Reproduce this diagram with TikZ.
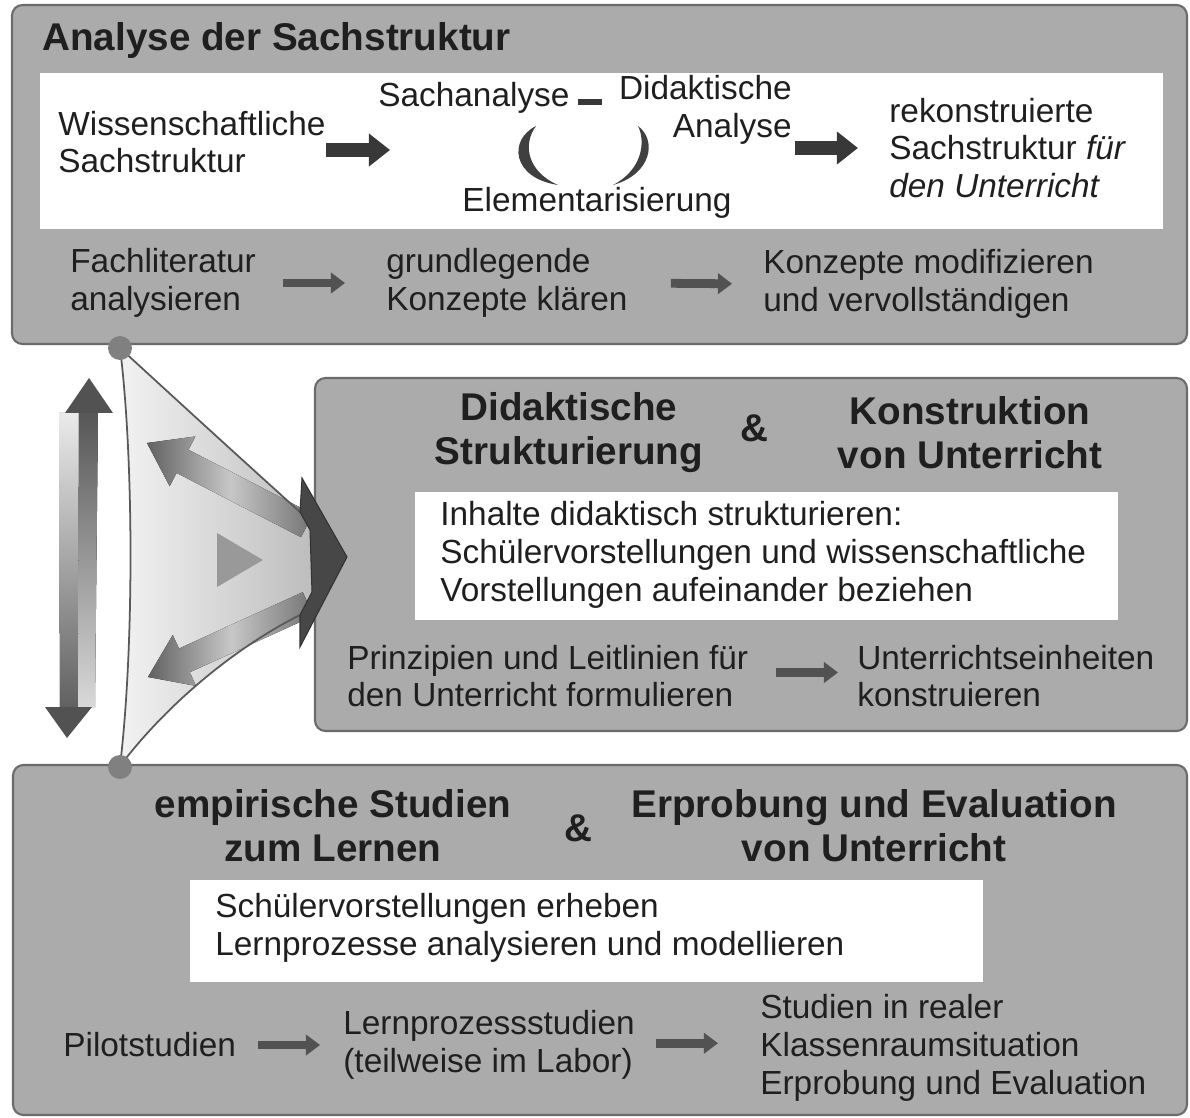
\documentclass[tikz,border=0pt]{standalone}
\usepackage{fontspec}
\setmainfont{Liberation Sans}
\usetikzlibrary{arrows.meta,calc}
\begin{document}
\begin{tikzpicture}[x=0.02cm,y=-0.02cm,
 panel/.style={draw=black!58, line width=1.2pt, fill=black!33, rounded corners=6pt},
 txt/.style={font=\fontsize{19}{21.5}\selectfont, inner sep=0pt, text=black!88, align=left},
 hd/.style={font=\fontsize{22}{25}\selectfont\bfseries, inner sep=0pt, text=black!88, align=center},
 bigarr/.style={line width=8.5pt, draw=black!78, -{Triangle[length=12pt,width=18pt]}},
 smallarr/.style={line width=5pt, draw=black!68, -{Triangle[length=8pt,width=11.5pt]}},
 darkfill/.style={fill=black!72},
]
\fill[white] (0,0) rectangle (1190,1118);
\useasboundingbox (0,0) rectangle (1190,1118);

% panels
\draw[panel] (12,5) rectangle (1187,344);
\draw[panel] (315,378) rectangle (1187,731);
\draw[panel] (13,765) rectangle (1187,1115);

% white boxes
\fill[white] (40,73) rectangle (1163,229);
\fill[white] (415,492) rectangle (1118,620);
\fill[white] (190,880) rectangle (983,982);

% ---------- top panel ----------
\node[hd, anchor=west] (title) at (42,41) {Analyse der Sachstruktur};
\node[txt, anchor=west] (wiss) at (58,142) {Wissenschaftliche\\Sachstruktur};
\node[txt, anchor=west] (sach) at (378,98) {Sachanalyse};
\node[txt, anchor=east, align=right] (did) at (792,110) {Didaktische\\Analyse};
\node[txt] (elem) at (597,203) {Elementarisierung};
\node[txt, anchor=west] (rek) at (889,148) {rekonstruierte\\Sachstruktur \textit{für}\\\textit{den Unterricht}};
\coordinate (cyc) at (585,150);

% cycle brackets
\fill[black!75] (536,126) .. controls (508,140) and (512,178) .. (558,185)
  .. controls (528,172) and (522,145) .. (536,126) -- cycle;
\fill[black!75] (638,126) .. controls (657,140) and (652,174) .. (613,185)
  .. controls (642,170) and (646,142) .. (638,126) -- cycle;

\draw[bigarr, shorten >=3.9cm] (wiss.east |- cyc) -- (cyc);
\draw[bigarr, shorten <=0.06cm, shorten >=0.62cm] (did.east |- rek.west) -- (rek.west);
\draw[line width=3.5pt, black!78, shorten <=0.16cm, shorten >=0.34cm]
  ([yshift=-2.3pt]sach.east) -- ([yshift=-2.3pt]sach.east -| did.west);

\node[txt, anchor=west] (fach) at (70,283) {Fachliteratur\\analysieren};
\node[txt, anchor=west] (grund) at (386,283) {grundlegende\\Konzepte klären};
\node[txt, anchor=west] (konz) at (763,284) {Konzepte modifizieren\\und vervollständigen};
\draw[smallarr, shorten <=0.54cm, shorten >=0.82cm] (fach.east) -- (grund.west);
\draw[smallarr, shorten <=0.86cm, shorten >=0.62cm] (grund.east) -- (konz.west);

% ---------- middle panel ----------
\node[hd] (dstr) at (569,433) {Didaktische\\Strukturierung};
\node[hd] (amp1) at (754,428) {\&};
\node[hd] (konst) at (970,433) {Konstruktion\\von Unterricht};
\node[txt, anchor=west] (inh) at (440,555) {Inhalte didaktisch strukturieren:\\Schülervorstellungen und wissenschaftliche\\Vorstellungen aufeinander beziehen};
\node[txt, anchor=west] (prinz) at (347,676) {Prinzipien und Leitlinien für\\den Unterricht formulieren};
\node[txt, anchor=west] (ue) at (857,676) {Unterrichtseinheiten\\konstruieren};
\draw[smallarr, shorten <=0.54cm, shorten >=0.38cm] ([yshift=2pt]prinz.east) -- ([yshift=2pt]ue.west);

% ---------- bottom panel ----------
\node[hd] (emp) at (333,826) {empirische Studien\\zum Lernen};
\node[hd] (amp2) at (578,828) {\&};
\node[hd] (erp) at (874,826) {Erprobung und Evaluation\\von Unterricht};
\node[txt, anchor=west] (sv) at (215,928) {Schülervorstellungen erheben\\Lernprozesse analysieren und modellieren};
\node[txt, anchor=west] (pilot) at (63,1045) {Pilotstudien};
\node[txt, anchor=west] (lern) at (343,1045) {Lernprozessstudien\\(teilweise im Labor)};
\node[txt, anchor=west] (stud) at (760,1048) {Studien in realer\\Klassenraumsituation\\Erprobung und Evaluation};
\draw[smallarr, shorten <=0.44cm, shorten >=0.46cm] (pilot.east) -- (lern.west);
\draw[smallarr, shorten <=0.42cm, shorten >=0.84cm] ([yshift=1pt]lern.east) -- ([yshift=1pt]lern.east -| stud.west);

% ---------- left graphic ----------
% sail
\fill[left color=black!5, right color=black!26]
  (120,348) .. controls (180,403) and (240,458) .. (300,512) -- (314,525) -- (314,600) -- (300,615)
  .. controls (240,645) and (170,700) .. (120,766)
  .. controls (134,650) and (134,460) .. (120,348) -- cycle;
% upper diagonal arrow
\begin{scope}[shift={(147,443)}, rotate=-27.3]
\fill[left color=black!62, right color=black!55, middle color=black!22]
  (0,0) -- (40,-28) -- (40,-13) -- (180,-13) -- (180,13) -- (40,13) -- (40,28) -- cycle;
\end{scope}
% lower diagonal arrow
\begin{scope}[shift={(148,677)}, rotate=24.5]
\fill[left color=black!62, right color=black!55, middle color=black!22]
  (0,0) -- (40,-28) -- (40,-13) -- (176,-13) -- (176,13) -- (40,13) -- (40,28) -- cycle;
\end{scope}
% centre triangle
\fill[black!40] (217,533) -- (263,560) -- (217,587) -- cycle;
% sail border
\draw[black!65, line width=1pt]
  (300,512) .. controls (240,458) and (180,403) .. (120,348)
  .. controls (134,460) and (134,650) .. (120,766)
  .. controls (170,700) and (240,645) .. (300,615);
% big arrowhead
\fill[darkfill, draw=black!80, line width=0.6pt]
  (300,512) -- (302,478) -- (347,557) -- (300,647) -- (300,615) -- (312,592) -- (310,530) -- cycle;
% dots
\fill[black!50] (120,348) circle[radius=12];
\fill[black!50] (120,767) circle[radius=12];

% vertical double arrow (twisted ribbon shaft)
\fill[top color=black!8, bottom color=black!62] (59,413) -- (79,413) -- (78,707) -- (60,707) -- cycle;
\fill[top color=black!66, bottom color=black!15] (79,413) -- (98,413) -- (95,707) -- (78,707) -- cycle;
\fill[black!68] (89,378) -- (113,413) -- (65,413) -- cycle;
\fill[black!68] (67,738) -- (45,707) -- (92,707) -- cycle;
\end{tikzpicture}
\end{document}
